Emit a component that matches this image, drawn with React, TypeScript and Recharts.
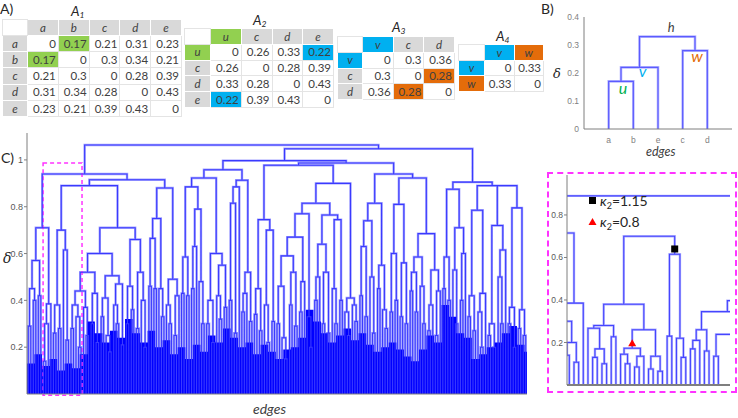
import React from "react";
import {
  ComposedChart,
  Line,
  Area,
  XAxis,
  YAxis,
  ReferenceArea,
  ReferenceDot,
} from "recharts";

const FONT = "Lato, 'Open Sans', sans-serif";
const TICK_FONT = "'Liberation Sans', Arial, sans-serif";
const GREEN = "#92d050";
const BLUE = "#00b0f0";
const ORANGE = "#e46c0a";
const HEAD = "#d9d9d9";

// ---------- A) distance matrices ----------
const A1_LABELS = ["a", "b", "c", "d", "e"];
const A1_VALUES = [
  [0, 0.17, 0.21, 0.31, 0.23],
  [0.17, 0, 0.3, 0.34, 0.21],
  [0.21, 0.3, 0, 0.28, 0.39],
  [0.31, 0.34, 0.28, 0, 0.43],
  [0.23, 0.21, 0.39, 0.43, 0],
];
const A2_LABELS = ["u", "c", "d", "e"];
const A2_VALUES = [
  [0, 0.26, 0.33, 0.22],
  [0.26, 0, 0.28, 0.39],
  [0.33, 0.28, 0, 0.43],
  [0.22, 0.39, 0.43, 0],
];
const A3_LABELS = ["v", "c", "d"];
const A3_VALUES = [
  [0, 0.3, 0.36],
  [0.3, 0, 0.28],
  [0.36, 0.28, 0],
];
const A4_LABELS = ["v", "w"];
const A4_VALUES = [
  [0, 0.33],
  [0.33, 0],
];

// ---------- B) small dendrogram ----------
const B_LEAVES = ["a", "b", "e", "c", "d"];
const B_TREE = "( ( (. .)0.17#u . )0.22#v (. .)0.28#w )0.33#h";
const B_TICKS = [0, 0.1, 0.2, 0.3, 0.4];
const B_NODE_TEXT = [
  { id: "u", text: "u", color: "#00b050", dx: 2, dy: 13, size: 16 },
  { id: "v", text: "v", color: "#00b0f0", dx: 3, dy: 10, size: 16 },
  { id: "w", text: "w", color: "#e46c0a", dx: 2, dy: 11, size: 16 },
  { id: "h", text: "h", color: "#404040", dx: 4, dy: -5, size: 13 },
];

// ---------- C) full dendrogram (heights read from the figure) ----------
const C_A1 = "( ( ( (. .)0.29 (. .)0.40 )0.45 (. .)0.42 )0.57 ( ( (. .)0.14 . )0.30 . )0.385 )0.71";
const C_A211 = "( ( (. .)0.26 (. .)0.28 )0.38 ( . (. .)0.23 )0.615 )0.70";
const C_N044 = "( ( (. .)0.28 ( . (. .)0.2 )0.33 )0.38 ( . (. .)0.25 )0.37 )0.44";
const C_N0505 = "( ( (. .)0.33 ( . (. .)0.18 )0.25 )0.41 ( ( . (. .)0.30 )0.38 (. .)0.21 )0.47 )0.505";
const C_N066 = "( ( (. .)0.3 (. .)0.36 )0.46 ( (. .)0.28 ( . (. .)0.2 )0.4 )0.52 )0.66";
const C_A22 = "( ( ( (. .)0.46 (. .)0.45 )0.665 ( . (. .)0.33 )0.45 )0.75 ( ( . (. .)0.3 )0.38 ( (. .)0.25 . )0.42 )0.49 )0.88";
const C_C1L = "( ( ( (. .)0.43 (. .)0.42 )0.585 ( ( (. .)0.45 . )0.63 ( . (. .)0.3 )0.48 )0.79 )0.885 ( ( (. .)0.3 (. .)0.22 )0.40 ( ( . (. .)0.32 )0.42 (. .)0.37 )0.55 )0.60 )0.923";
const C_C1R = "( ( ( (. .)0.40 (. .)0.26 )0.815 . )0.885 ( ( (. .)0.35 . )0.43 (. .)0.31 )0.52 )0.913";
const C_N0745 = "( ( (. .)0.34 (. .)0.27 )0.45 ( ( . (. .)0.22 )0.38 (. .)0.31 )0.70 )0.745";
const C_N059 = "( ( (. .)0.3 ( . (. .)0.15 )0.24 )0.46 ( (. .)0.38 (. .)0.29 )0.52 )0.59";
const C_N076 = "( ( ( (. .)0.4 . )0.5 ( (. .)0.3 (. .)0.26 )0.52 )0.64 ( ( . (. .)0.3 )0.45 (. .)0.4 )0.745 )0.765";
const C_N041 = "( ( . (. .)0.25 )0.35 ( . (. .)0.31 )0.38 )0.41";
const C_N0815 = "( ( ( (. .)0.42 (. .)0.33 )0.63 ( . (. .)0.26 )0.5 )0.74 ( (. .)0.45 ( . (. .)0.28 )0.36 )0.55 )0.815";
const C_N081 = "( ( (. .)0.35 (. .)0.4 )0.6 ( (. .)0.33 (. .)0.3 )0.56 )0.81";
const C_N0685 = "( ( ( (. .)0.44 (. .)0.35 )0.52 ( . (. .)0.3 )0.46 )0.585 ( ( (. .)0.27 . )0.38 ( (. .)0.25 . )0.44 )0.53 )0.685";
const C_B21 = "( ( (. .)0.45 (. .)0.40 )0.585 ( ( . (. .)0.3 )0.53 ( (. .)0.4 . )0.6 )0.71 )0.875";
const C_N0785 = "( ( (. .)0.33 (. .)0.27 )0.42 ( ( . (. .)0.2 )0.35 . )0.43 )0.785";
const C_N072 = "( ( (. .)0.25 (. .)0.2 )0.3 ( ( . (. .)0.3 )0.5 . )0.615 )0.72";
const C_N0795 = "( ( (. .)0.3 (. .)0.2 )0.37 ( (. .)0.28 (. .)0.25 )0.36 )0.795";

const C_LEFT = `( ${C_A1} ( ( ${C_A211} ( ( ( ${C_N044} ( (. .)0.3 (. .)0.22 )0.43 )0.52 ${C_N0505} )0.60 ${C_N066} )0.71 )0.89 ${C_A22} )0.915 )0.94`;
const C_C2 = `( ( ${C_N0745} ( ( ( ( ${C_N059} ( (. .)0.35 . )0.48 )0.67 ( . (. .)0.2 )0.33 )0.77 ${C_N076} )0.815 ${C_N041} )0.90 )0.977 ( ${C_N0815} ( ${C_N081} ${C_N0685} )0.923 )0.94 )0.987`;
const C_RIGHT = `( ( ( ${C_C1L} ${C_C1R} )0.958 ${C_C2} )0.997 ( ${C_B21} ( ${C_N0785} ( ${C_N072} ${C_N0795} )0.89 )0.89 )0.905 )1.048`;
const C_TREE = `( ${C_LEFT} ${C_RIGHT} )1.064`;

// solid blue base, one value per 3 leaves
const C_FLOOR = [
  0.13, 0.17, 0.12, 0.15, 0.1, 0.13, 0.11, 0.17, 0.31, 0.26,
  0.22, 0.27, 0.24, 0.32, 0.26, 0.22, 0.27, 0.2, 0.23, 0.17,
  0.2, 0.15, 0.21, 0.18, 0.25, 0.22, 0.28, 0.24, 0.2, 0.22,
  0.17, 0.21, 0.18, 0.15, 0.19, 0.2, 0.24, 0.36, 0.31, 0.26,
  0.22, 0.25, 0.28, 0.23, 0.26, 0.21, 0.18, 0.2, 0.22, 0.19,
  0.16, 0.14, 0.19, 0.25, 0.22, 0.38, 0.33, 0.26, 0.24, 0.15,
  0.17, 0.2, 0.22, 0.26, 0.29, 0.21, 0.18,
];
const C_TICKS = [0.2, 0.4, 0.6, 0.8, 1];
const C_YMAX = 1.115;
const C_ZOOM_BOX = { x1: 5.9, x2: 21.4, y1: -0.005, y2: 0.987 };

// ---------- zoomed subtree ----------
const Z_TREE =
  "( ( (. .)0.57 ( ( (. .)0.25 ( (. .)0.14 (. .)0.107 )0.2 )0.30 . )0.385 )0.715 " +
  "( ( ( ( . ( (. .)0.13 (. .)0.10 )0.17 )0.267 (. .)0.227 )0.28 " +
  "( ( ( . (. .)0.10 )0.145 ( (. .)0.085 . )0.135 )0.173#tri ( (. .)0.075 (. .)0.065 )0.135 )0.26 )0.38 " +
  "( (. .)0.23 ( . (. .)0.13 )0.22 )0.615#sq )0.70 " +
  "( ( ( ( ( ( . . )0.17 . )0.21 (. .)0.16 )0.26 ( (. .)0.135 ~14 (. .)0.2 )0.238 )0.345 (. .)0.3 )0.397 ~16 (. .)0.5 )0.80 )0.89 )0.94";
const Z_WINDOW = [4.5, 39.5];
const Z_TICKS = [0.2, 0.4, 0.6, 0.8];
const Z_MARKS = [
  { id: "sq", y: 0.64, kind: "square", label: "1.15" },
  { id: "tri", y: 0.196, kind: "triangle", label: "0.8" },
];

// ---------- tree helpers ----------
type TNode = { kids: TNode[]; h: number; x: number; id?: string };

function parseTree(src: string) {
  let i = 0;
  let leaf = 0;
  const nodes: TNode[] = [];
  const skip = () => {
    while (i < src.length && /\s/.test(src[i])) i++;
  };
  const num = () => {
    const m = /^[0-9.]+/.exec(src.slice(i));
    if (!m) return 0;
    i += m[0].length;
    return parseFloat(m[0]);
  };
  const read = (): TNode | null => {
    skip();
    const c = src[i];
    if (c === "~") {
      i++;
      leaf += num();
      return null;
    }
    if (c === ".") {
      i++;
      return { kids: [], h: 0, x: leaf++ };
    }
    if (c === "(") {
      i++;
      const kids: TNode[] = [];
      for (;;) {
        skip();
        if (src[i] === ")") {
          i++;
          break;
        }
        const k = read();
        if (k) kids.push(k);
      }
      const h = num();
      let id: string | undefined;
      if (src[i] === "#") {
        i++;
        const m = /^\w+/.exec(src.slice(i));
        id = m ? m[0] : "";
        i += id.length;
      }
      const node = { kids, h, x: (kids[0].x + kids[kids.length - 1].x) / 2, id };
      nodes.push(node);
      return node;
    }
    throw new Error("bad tree at " + i);
  };
  const root = read() as TNode;
  return { root, nodes, leaves: leaf };
}

function segments(nodes: TNode[]) {
  const pts: { x: number; y: number | null }[] = [];
  nodes.forEach((n) => {
    const a = n.kids[0];
    const b = n.kids[n.kids.length - 1];
    pts.push(
      { x: a.x, y: a.h },
      { x: a.x, y: n.h },
      { x: b.x, y: n.h },
      { x: b.x, y: b.h },
      { x: b.x, y: null }
    );
  });
  return pts;
}

const findNode = (nodes: TNode[], id: string) => nodes.find((n) => n.id === id) as TNode;

// ---------- matrix table ----------
type MatrixProps = {
  sub: string;
  left: number;
  top: number;
  width: number;
  height: number;
  firstW: number;
  titleX: number;
  titleY: number;
  labels: string[];
  values: number[][];
  labelFill: Record<string, string>;
  cellFill: Record<string, string>;
};

function Matrix(p: MatrixProps) {
  const n = p.labels.length;
  const rowH = p.height / (n + 1);
  const cellW = (p.width - p.firstW) / n;
  const head = (bg: string): React.CSSProperties => ({
    background: bg,
    fontStyle: "italic",
    textAlign: "center",
    border: "1px solid #fff",
    padding: 0,
  });
  return (
    <>
      <table
        style={{
          position: "absolute",
          left: p.left,
          top: p.top,
          width: p.width,
          height: p.height,
          borderCollapse: "collapse",
          tableLayout: "fixed",
          border: "1.5px solid #6f6f6f",
          fontSize: 11.5,
          color: "#404040",
          fontFamily: FONT,
          lineHeight: 1,
        }}
      >
        <colgroup>
          <col style={{ width: p.firstW }} />
          {p.labels.map((_, j) => (
            <col key={j} style={{ width: cellW }} />
          ))}
        </colgroup>
        <tbody>
          <tr style={{ height: rowH }}>
            <td style={{ background: "#fff", padding: 0, border: "1px solid #e4e4e4" }} />
            {p.labels.map((l, j) => (
              <td key={j} style={head(p.labelFill[l] ?? HEAD)}>
                {l}
              </td>
            ))}
          </tr>
          {p.values.map((row, i) => (
            <tr key={i} style={{ height: rowH }}>
              <td style={head(p.labelFill[p.labels[i]] ?? HEAD)}>{p.labels[i]}</td>
              {row.map((v, j) => (
                <td
                  key={j}
                  style={{
                    background: p.cellFill[`${i},${j}`] ?? "#fff",
                    textAlign: "right",
                    padding: "0 2px 0 0",
                    border: "1px solid #e4e4e4",
                  }}
                >
                  {v}
                </td>
              ))}
            </tr>
          ))}
        </tbody>
      </table>
      <div
        style={{
          position: "absolute",
          left: p.titleX,
          top: p.titleY,
          fontStyle: "italic",
          fontSize: 13.5,
          lineHeight: "14px",
          color: "#262626",
          fontFamily: FONT,
          zIndex: 2,
        }}
      >
        A<span style={{ fontSize: 8.5, verticalAlign: "-2px" }}>{p.sub}</span>
      </div>
    </>
  );
}

const txt = (left: number, top: number, size: number, extra: React.CSSProperties = {}) =>
  ({ position: "absolute", left, top, fontSize: size, lineHeight: 1, color: "#262626", fontFamily: FONT, whiteSpace: "nowrap", ...extra } as React.CSSProperties);

export default function App() {
  const bTree = parseTree(B_TREE);
  const bPts = segments(bTree.nodes);

  const main = parseTree(C_TREE);
  const mainPts = segments(main.nodes);
  const mainN = main.leaves;
  const floorData = [
    ...C_FLOOR.map((f, k) => ({ x: 3 * k - 0.5, f })),
    { x: mainN - 0.5, f: C_FLOOR[C_FLOOR.length - 1] },
  ];

  const zoom = parseTree(Z_TREE);
  const zoomPts = segments(zoom.nodes);

  const axisGray = "#7f7f7f";

  return (
    <div
      style={{
        position: "absolute",
        left: 0,
        top: 0,
        width: 738,
        height: 418,
        background: "#fff",
        overflow: "hidden",
        fontFamily: FONT,
      }}
    >
      {/* panel labels */}
      <div style={txt(0, 2, 14)}>A)</div>
      <div style={txt(541, 2, 14)}>B)</div>
      <div style={txt(1, 151, 14)}>C)</div>

      <Matrix sub="1" left={2} top={19} width={179} height={97} firstW={25} titleX={71} titleY={4}
        labels={A1_LABELS} values={A1_VALUES} labelFill={{}} cellFill={{ "0,1": GREEN, "1,0": GREEN }} />
      <Matrix sub="2" left={184} top={28} width={149} height={79} firstW={26} titleX={253} titleY={13}
        labels={A2_LABELS} values={A2_VALUES} labelFill={{ u: GREEN }} cellFill={{ "0,3": BLUE, "3,0": BLUE }} />
      <Matrix sub="3" left={337} top={36} width={117} height={63} firstW={25} titleX={392} titleY={20}
        labels={A3_LABELS} values={A3_VALUES} labelFill={{ v: BLUE }} cellFill={{ "1,2": ORANGE, "2,1": ORANGE }} />
      <Matrix sub="4" left={458} top={44} width={85} height={47} firstW={26} titleX={496} titleY={29}
        labels={A4_LABELS} values={A4_VALUES} labelFill={{ v: BLUE, w: ORANGE }} cellFill={{}} />

      {/* B) */}
      <div style={{ position: "absolute", left: 545, top: 10 }}>
        <ComposedChart width={193} height={139} margin={{ top: 7, right: 6, bottom: 0, left: 0 }}>
          <XAxis
            type="number"
            dataKey="x"
            domain={[-1, 5]}
            allowDataOverflow
            ticks={[0, 1, 2, 3, 4]}
            interval={0}
            tickFormatter={(v: number) => B_LEAVES[v] ?? ""}
            tickLine={false}
            height={20}
            tick={{ fontSize: 8.5, fill: axisGray, fontFamily: TICK_FONT }}
            axisLine={{ stroke: axisGray }}
          />
          <YAxis
            type="number"
            domain={[0, 0.4]}
            ticks={B_TICKS}
            width={39}
            tickSize={3}
            tickMargin={2}
            tickLine={false}
            tick={{ fontSize: 8.5, fill: axisGray, fontFamily: TICK_FONT }}
            axisLine={{ stroke: axisGray }}
          />
          <Line data={bPts} dataKey="y" stroke="#b9b9ff" strokeWidth={2.6} dot={false} isAnimationActive={false} />
          <Line data={bPts} dataKey="y" stroke="#5b5bff" strokeWidth={1.2} dot={false} isAnimationActive={false} />
          {B_NODE_TEXT.map((t) => {
            const n = findNode(bTree.nodes, t.id);
            return (
              <ReferenceDot
                key={t.id}
                x={n.x}
                y={n.h}
                r={1}
                shape={(s: any) => (
                  <text
                    x={s.cx + t.dx}
                    y={s.cy + t.dy}
                    textAnchor="middle"
                    fill={t.color}
                    fontSize={t.size}
                    fontStyle="italic"
                    fontFamily={FONT}
                  >
                    {t.text}
                  </text>
                )}
              />
            );
          })}
        </ComposedChart>
      </div>
      <div style={txt(553, 67, 13, { fontFamily: "'DejaVu Serif', serif", fontStyle: "italic" })}>δ</div>
      <div style={txt(646, 146, 12.5, { fontStyle: "italic", color: "#404040" })}>edges</div>

      {/* C) light halo beneath the solid base */}
      <div style={{ position: "absolute", left: 0, top: 125 }}>
        <ComposedChart width={540} height={272} margin={{ top: 8, right: 13, bottom: 3, left: 27 }}>
          <XAxis hide type="number" dataKey="x" domain={[-0.5, mainN - 0.5]} allowDataOverflow />
          <YAxis hide type="number" domain={[0, C_YMAX]} allowDataOverflow />
          <Line data={mainPts} dataKey="y" stroke="#a3a3ff" strokeWidth={2.4} dot={false} isAnimationActive={false} />
        </ComposedChart>
      </div>
      <div style={{ position: "absolute", left: 0, top: 125 }}>
        <ComposedChart width={540} height={272} margin={{ top: 8, right: 13, bottom: 2, left: 0 }}>
          <XAxis
            type="number"
            dataKey="x"
            domain={[-0.5, mainN - 0.5]}
            allowDataOverflow
            tick={false}
            tickLine={false}
            height={1}
            axisLine={{ stroke: axisGray }}
          />
          <YAxis
            type="number"
            domain={[0, C_YMAX]}
            allowDataOverflow
            ticks={C_TICKS}
            width={27}
            tickSize={3}
            tickMargin={1}
            tick={{ fontSize: 9, fill: "#595959", fontFamily: TICK_FONT }}
            tickLine={{ stroke: axisGray }}
            axisLine={{ stroke: axisGray }}
          />
          <Area data={floorData} dataKey="f" type="stepAfter" fill="#0000ff" fillOpacity={1} stroke="none" isAnimationActive={false} />
          <Line data={mainPts} dataKey="y" stroke="#3a3aff" strokeWidth={1.1} dot={false} isAnimationActive={false} />
          <ReferenceArea
            x1={C_ZOOM_BOX.x1}
            x2={C_ZOOM_BOX.x2}
            y1={C_ZOOM_BOX.y1}
            y2={C_ZOOM_BOX.y2}
            ifOverflow="visible"
            fill="none"
            fillOpacity={0}
            stroke="#ff33ff"
            strokeWidth={1.5}
            strokeDasharray="4 3"
          />
        </ComposedChart>
      </div>
      <div style={txt(3, 251, 14, { fontFamily: "'DejaVu Serif', serif", fontStyle: "italic" })}>δ</div>
      <div style={txt(253, 402, 14, { fontStyle: "italic", color: "#404040" })}>edges</div>

      {/* zoomed subtree */}
      <div
        style={{
          position: "absolute",
          left: 547,
          top: 172,
          width: 190,
          height: 221,
          boxSizing: "border-box",
          border: "2px dashed #ff33ff",
        }}
      />
      <div style={{ position: "absolute", left: 540, top: 170 }}>
        <ComposedChart width={198} height={218} margin={{ top: 5, right: 8, bottom: 2, left: 0 }}>
          <XAxis
            type="number"
            dataKey="x"
            domain={Z_WINDOW}
            allowDataOverflow
            tick={false}
            tickLine={false}
            height={1}
            axisLine={{ stroke: axisGray, strokeWidth: 2 }}
          />
          <YAxis
            type="number"
            domain={[0, 0.988]}
            allowDataOverflow
            ticks={Z_TICKS}
            width={27}
            tickSize={3}
            tickMargin={1}
            tick={{ fontSize: 8.5, fill: "#595959", fontFamily: TICK_FONT }}
            tickLine={{ stroke: axisGray }}
            axisLine={{ stroke: axisGray }}
          />
          <Line data={zoomPts} dataKey="y" stroke="#b3b3ff" strokeWidth={2.4} dot={false} isAnimationActive={false} />
          <Line data={zoomPts} dataKey="y" stroke="#4545ff" strokeWidth={1.1} dot={false} isAnimationActive={false} />
          {Z_MARKS.map((m) => {
            const n = findNode(zoom.nodes, m.id);
            return (
              <ReferenceDot
                key={m.id}
                x={n.x}
                y={m.y}
                r={3}
                shape={(s: any) =>
                  m.kind === "square" ? (
                    <rect x={s.cx - 3.5} y={s.cy - 3.5} width={7} height={7} fill="#000" />
                  ) : (
                    <polygon
                      points={`${s.cx},${s.cy - 4} ${s.cx - 4},${s.cy + 3} ${s.cx + 4},${s.cy + 3}`}
                      fill="#ff0000"
                    />
                  )
                }
              />
            );
          })}
        </ComposedChart>
      </div>
      {/* legend of the markers */}
      {Z_MARKS.map((m, k) => (
        <div key={m.id} style={txt(588, 194 + k * 21, 14, { color: "#262626" })}>
          <svg width={9} height={9} style={{ marginRight: 3, verticalAlign: "1px" }}>
            {m.kind === "square" ? (
              <rect x={1} y={1} width={7} height={7} fill="#000" />
            ) : (
              <polygon points="4.5,1 0.5,8 8.5,8" fill="#ff0000" />
            )}
          </svg>
          <span style={{ fontStyle: "italic" }}>κ</span>
          <span style={{ fontSize: 9, verticalAlign: "-3px" }}>2</span>={m.label}
        </div>
      ))}
    </div>
  );
}
